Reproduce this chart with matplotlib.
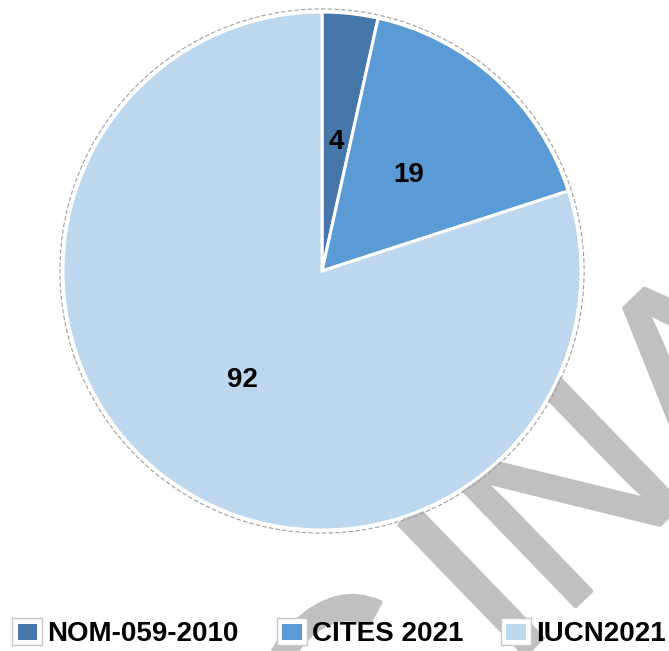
import numpy as np
import matplotlib
matplotlib.use("Agg")
import matplotlib.pyplot as plt
import matplotlib.patheffects as pe
from matplotlib.patches import Rectangle, Circle, Patch
from matplotlib.legend_handler import HandlerBase

# datos
categorias = ["NOM-059-2010", "CITES 2021", "IUCN2021"]
valores = [4, 19, 92]
colores = ["#4677aa", "#5a9bd5", "#bdd7ee"]
marca_agua = "CINA"

plt.rcParams['font.family'] = ['Liberation Sans', 'DejaVu Sans']

W, H = 669, 651
cx, cy, R = 322, 271, 259  # centro y radio del pastel en pixeles

fig = plt.figure(figsize=(W / 100, H / 100), dpi=100)
ax = fig.add_axes([0, 0, 1, 1])

total = sum(valores)
wedges, _, etiquetas = ax.pie(valores, colors=colores, startangle=90, counterclock=False,
                              autopct=lambda p: f"{p * total / 100:.0f}", pctdistance=0.5,
                              wedgeprops=dict(edgecolor='white', linewidth=2.2),
                              textprops=dict(fontsize=20, fontweight='bold', color='black'))

# la etiqueta grande va "best fit" como en Excel
ang = np.deg2rad(234)
etiquetas[2].set_position((0.52 * np.cos(ang), 0.52 * np.sin(ang)))

# contorno punteado
ax.add_patch(Circle((0, 0), 1.012, fill=False, edgecolor='#a0a0a0', lw=0.8,
                    linestyle=(0, (4, 2)), zorder=0.8))

# marca de agua gris detras del pastel (origenes en pixeles -> datos)
gris = '#c0c0c0'
grueso = [pe.withStroke(linewidth=3, foreground=gris)]
for txt, (ox, oy) in [(marca_agua[0], (348.7, 825.4)), (marca_agua[1:], (507.6, 671.8))]:
    ax.text((ox - cx) / R, (cy - oy) / R, txt, fontsize=189, color=gris,
            rotation=44, rotation_mode='anchor', ha='left', va='baseline',
            zorder=0.5, clip_on=False, path_effects=grueso)

ax.set_xlim(-cx / R, (W - cx) / R)
ax.set_ylim(-(H - cy) / R, cy / R)
ax.set_aspect('auto')
ax.axis('off')


class Cuadro(HandlerBase):
    def create_artists(self, legend, orig, xd, yd, w, h, fontsize, trans):
        outer = Rectangle((-xd, -yd), w, h, facecolor='white', edgecolor='#c8c8c8',
                          lw=1, transform=trans)
        pad = 0.17 * w
        inner = Rectangle((-xd + pad, -yd + pad), w - 2 * pad, h - 2 * pad,
                          facecolor=orig.get_facecolor(), edgecolor='none', transform=trans)
        return [outer, inner]


handles = [Patch(facecolor=c) for c in colores]
fig.legend(handles, categorias, loc='center', bbox_to_anchor=(0.507, 0.028), ncol=3,
           frameon=False, prop=dict(size=20, weight='bold'), handlelength=1.08,
           handleheight=1.08, handletextpad=0.18, columnspacing=1.37,
           handler_map={Patch: Cuadro()})

plt.savefig('out.png', dpi=100)
